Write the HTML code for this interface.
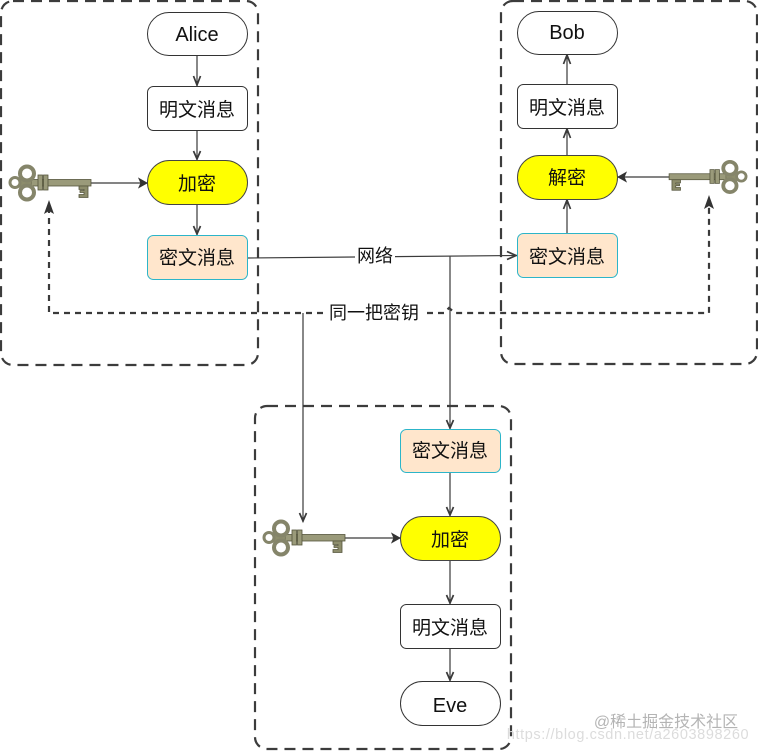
<!DOCTYPE html>
<html><head><meta charset="utf-8"><style>
html,body{margin:0;padding:0;background:#fff;width:758px;height:751px;overflow:hidden}
svg{display:block}
text{font-family:"Liberation Sans","Noto Sans CJK SC",sans-serif;font-size:19px;fill:#111;text-anchor:middle}
.lat{font-size:20px}
.c{fill:none;stroke:#3c3c3c;stroke-width:2.2;stroke-dasharray:11 7}
.n{fill:#fff;stroke:#333;stroke-width:1}
.y{fill:#ff0;stroke:#444;stroke-width:1}
.o{fill:#ffe6cc;stroke:#2cb5c9;stroke-width:1}
.l{fill:none;stroke:#3a3a3a;stroke-width:1.2}
.d{fill:none;stroke:#3a3a3a;stroke-width:2.2;stroke-dasharray:6 5}
.a{fill:none;stroke:#3a3a3a;stroke-width:1.7}
</style></head><body>
<svg width="758" height="751" viewBox="0 0 758 751" xmlns="http://www.w3.org/2000/svg">
<defs>
<g id="key">
<rect x="22" y="-3" width="60" height="6.500" fill="#9a9a7a" stroke="#55553c" stroke-width=".8"/>
<rect x="29" y="-7.500" width="4.500" height="15" fill="#9a9a7a" stroke="#55553c" stroke-width=".8"/>
<rect x="34.500" y="-7.500" width="4.500" height="15" fill="#9a9a7a" stroke="#55553c" stroke-width=".8"/>
<path d="M70 3.500h9v11.500h-9v-3h5v-2h-4v-2h4v-1h-5z" fill="#8d8d6c" stroke="#55553c" stroke-width=".8"/>
<circle cx="15" cy="0" r="7" fill="#8d8d6c"/>
<circle cx="6" cy="0" r="5" fill="#fff" stroke="#85856a" stroke-width="3"/>
<circle cx="18" cy="-9" r="7" fill="#fff" stroke="#85856a" stroke-width="4"/>
<circle cx="18" cy="10" r="7" fill="#fff" stroke="#85856a" stroke-width="4"/>
</g>
</defs>

<rect class="c" x="1" y="1" width="257" height="364" rx="12"/>
<rect class="c" x="501" y="1" width="256" height="363" rx="12"/>
<rect class="c" x="255" y="406" width="256" height="343" rx="12"/>

<!-- Plain connectors -->
<path class="l" d="M197 55V86M197 130V160M197 204V235"/>
<path class="l" d="M567 84V54M567 155V128M567 233V199"/>
<path class="l" d="M450 472V516M450 560V604M450 648V681"/>
<path class="l" d="M91 183H147M344 538H400M670 177H618"/>
<path class="l" d="M247 258L517 255.500M450 256V429M303 313V522"/>

<!-- Dashed -->
<path class="d" d="M49 207V313H444L449 308L455 313H709V202"/>

<!-- Arrowheads -->
<path class="a" d="M193.500 76L197 85L200.500 76M193.500 151L197 159L200.500 151M193.500 226L197 234L200.500 226"/>
<path class="a" d="M563.500 64L567 55L570.500 64M563.500 138L567 129L570.500 138M563.500 209L567 200L570.500 209"/>
<path class="a" d="M446.500 420L450 428L453.500 420M446.500 507L450 515L453.500 507M446.500 595L450 603L453.500 595M446.500 672L450 680L453.500 672"/>
<path class="a" d="M299.500 513L303 521L306.500 513"/>
<path d="M147 183L139 178.500L141 183L139 187.500Z M400 538L392 533.500L394 538L392 542.500Z M618 177L626 172.500L624 177L626 181.500Z" fill="#333" stroke="#333"/>
<path class="a" d="M507 251.500L516 255.500L507 259.500"/>
<path d="M49 200L54 214L49 211L44 214Z M709 195L714 209L709 206L704 209Z" fill="#333"/>

<!-- Keys -->
<use href="#key" transform="translate(9,182.500)"/>
<use href="#key" transform="translate(263,537.500)"/>
<use href="#key" transform="translate(747,176.500) scale(-.95,.92)"/>

<!-- Nodes: Alice -->
<rect class="n" x="147.500" y="12.500" width="100" height="43" rx="21.500"/>
<text class="lat" x="197" y="41">Alice</text>
<rect class="n" x="147.500" y="86.500" width="100" height="44" rx="6"/>
<text x="197" y="116">明文消息</text>
<rect class="y" x="147.500" y="160.500" width="100" height="44" rx="22"/>
<text x="197" y="190">加密</text>
<rect class="o" x="147.500" y="235.500" width="100" height="44" rx="6"/>
<text x="197" y="264">密文消息</text>

<!-- Nodes: Bob -->
<rect class="n" x="517.500" y="11.500" width="100" height="43" rx="21.500"/>
<text class="lat" x="567" y="39">Bob</text>
<rect class="n" x="517.500" y="84.500" width="100" height="44" rx="6"/>
<text x="567" y="114">明文消息</text>
<rect class="y" x="517.500" y="155.500" width="100" height="44" rx="22"/>
<text x="567" y="184">解密</text>
<rect class="o" x="517.500" y="233.500" width="100" height="44" rx="6"/>
<text x="567" y="263">密文消息</text>

<!-- Nodes: Eve -->
<rect class="o" x="400.500" y="429.500" width="100" height="43" rx="6"/>
<text x="450" y="457">密文消息</text>
<rect class="y" x="400.500" y="516.500" width="100" height="44" rx="22"/>
<text x="450" y="546">加密</text>
<rect class="n" x="400.500" y="604.500" width="100" height="44" rx="6"/>
<text x="450" y="634">明文消息</text>
<rect class="n" x="400.500" y="681.500" width="100" height="44" rx="22"/>
<text class="lat" x="450" y="712">Eve</text>

<!-- Edge labels -->
<rect x="355" y="245" width="40" height="22" fill="#fff"/>
<text x="375" y="262" style="font-size:18px">网络</text>
<rect x="326" y="302" width="96" height="22" fill="#fff"/>
<text x="374" y="319" style="font-size:18px">同一把密钥</text>

<!-- Watermarks -->
<text x="666" y="727" style="font-size:16px;fill:#b4b4b4">@稀土掘金技术社区</text>
<text x="628" y="739" style="font-size:14.500px;fill:#dcdcdc;letter-spacing:.6px">https://blog.csdn.net/a2603898260</text>
</svg>
</body></html>
